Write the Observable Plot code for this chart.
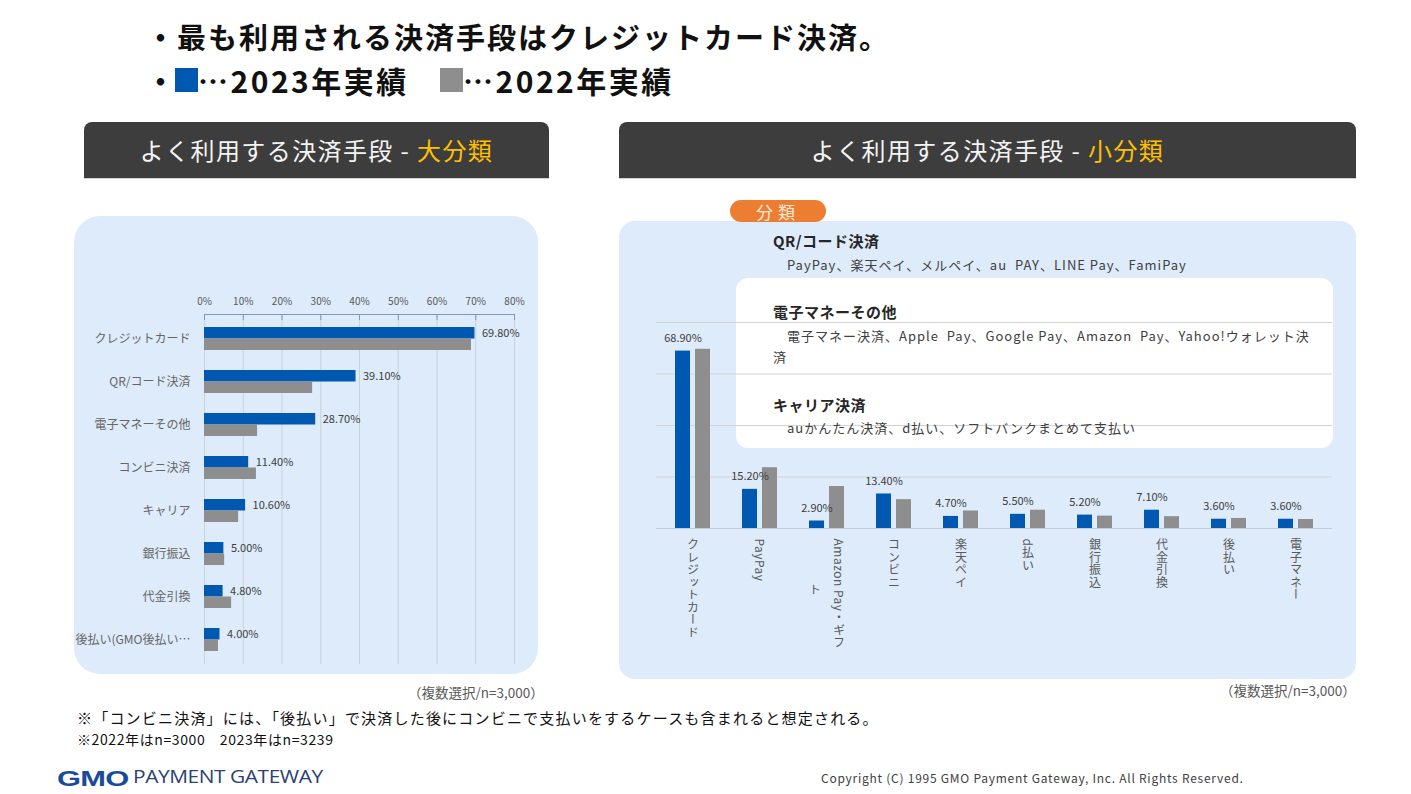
<!DOCTYPE html>
<html><head><meta charset="utf-8">
<script src="https://cdn.jsdelivr.net/npm/d3@7"></script>
<script src="https://cdn.jsdelivr.net/npm/@observablehq/plot@0.6"></script>
<style>
body{margin:0;background:#fff;font-family:"Noto Sans CJK JP","Noto Sans",sans-serif;}
#slide{position:relative;width:1411px;height:794px;overflow:hidden;background:#fff;}
.a{position:absolute;white-space:pre;line-height:1;}
.title{font-size:29px;font-weight:700;color:#111;letter-spacing:2px;}
.hdr{background:#3d3d3d;border-radius:8px 8px 0 0;border-bottom:1px solid #d0d0d0;color:#f4f4f4;font-size:24px;display:flex;align-items:center;justify-content:center;letter-spacing:1.4px;}
.hdr span{color:#ffc000;}
.panel{background:#ddebfa;}
.desc{font-size:13px;color:#404040;letter-spacing:1px;}
.dhead{font-size:15px;font-weight:700;color:#262626;letter-spacing:0.5px;}
.note{font-size:13.5px;color:#595959;}
g[aria-description="xlabels"] text{writing-mode:vertical-rl;letter-spacing:0.5px;}
</style></head>
<body><div id="slide">
<div class="a title" style="left:146px;top:22px;">・最も利用される決済手段はクレジットカード決済。</div>
<div class="a title" style="left:146px;top:66px;">・</div>
<div class="a" style="left:175px;top:68px;width:23px;height:24px;background:#0058b0;"></div>
<div class="a title" style="left:198px;top:65px;font-size:30px;letter-spacing:2.5px;">…2023年実績</div>
<div class="a" style="left:440px;top:68px;width:23px;height:24px;background:#8e8e8e;"></div>
<div class="a title" style="left:463px;top:65px;font-size:30px;letter-spacing:2.5px;">…2022年実績</div>

<div class="a hdr" style="left:84px;top:122px;width:465px;height:56px;">よく利用する決済手段 - <span>大分類</span></div>
<div class="a hdr" style="left:619px;top:122px;width:737px;height:56px;">よく利用する決済手段 - <span>小分類</span></div>

<div class="a panel" style="left:74px;top:216px;width:464px;height:458px;border-radius:26px;"></div>
<div class="a panel" style="left:619px;top:221px;width:737px;height:458px;border-radius:16px;"></div>
<div class="a" style="left:736px;top:278px;width:597px;height:170px;border-radius:12px;background:#fff;"></div>

<div id="left" class="a" style="left:74px;top:280px;"></div>
<div id="right" class="a" style="left:619px;top:300px;"></div>

<div class="a" style="left:730px;top:200px;width:96px;height:22px;border-radius:11px;background:#ed7d31;color:#fde9d9;font-size:17px;display:flex;align-items:center;justify-content:center;letter-spacing:5px;">分類</div>
<div class="a dhead" style="left:773px;top:233px;">QR/コード決済</div>
<div class="a desc" style="left:787px;top:258px;">PayPay、楽天ペイ、メルペイ、au  PAY、LINE Pay、FamiPay</div>
<div class="a dhead" style="left:773px;top:304px;">電子マネーその他</div>
<div class="a desc" style="left:787px;top:329px;">電子マネー決済、Apple  Pay、Google Pay、Amazon  Pay、Yahoo!ウォレット決</div>
<div class="a desc" style="left:773px;top:350px;">済</div>
<div class="a dhead" style="left:773px;top:397px;">キャリア決済</div>
<div class="a desc" style="left:787px;top:421px;">auかんたん決済、d払い、ソフトバンクまとめて支払い</div>

<div class="a note" style="left:408px;top:686px;">（複数選択/n=3,000）</div>
<div class="a note" style="left:1220px;top:684px;">（複数選択/n=3,000）</div>
<div class="a" style="left:77px;top:710px;font-size:15px;color:#111;letter-spacing:1.2px;">※「コンビニ決済」には、「後払い」で決済した後にコンビニで支払いをするケースも含まれると想定される。</div>
<div class="a" style="left:77px;top:732px;font-size:14px;color:#111;letter-spacing:0.6px;">※2022年はn=3000　2023年はn=3239</div>
<div class="a" style="left:57px;top:768px;font-family:'Liberation Sans',sans-serif;font-size:22px;font-weight:700;color:#1a4a9c;transform:scaleX(1.4);transform-origin:0 0;letter-spacing:-0.5px;">GMO</div>
<div class="a" style="left:133px;top:767px;font-family:'Open Sans',sans-serif;font-size:19px;color:#2b4272;transform:scaleX(1.1);transform-origin:0 0;letter-spacing:-0.4px;">PAYMENT GATEWAY</div>
<div class="a" style="left:821px;top:772px;font-size:12px;color:#404040;letter-spacing:0.75px;">Copyright (C) 1995 GMO Payment Gateway, Inc. All Rights Reserved.</div>
</div>
<script>
// ---- data: 大分類 ----
const bigCats = ["クレジットカード","QR/コード決済","電子マネーその他","コンビニ決済","キャリア","銀行振込","代金引換","後払い(GMO後払い…"];
const big2023 = [69.8, 39.1, 28.7, 11.4, 10.6, 5.0, 4.8, 4.0];
const big2022 = [68.9, 27.9, 13.7, 13.4, 8.8, 5.2, 7.0, 3.6];
const bigTicks = [0, 10, 20, 30, 40, 50, 60, 70, 80];
// ---- data: 小分類 ----
const smallCats = ["クレジットカード","PayPay","Amazon Pay・ギフト","コンビニ","楽天ペイ","d払い","銀行振込","代金引換","後払い","電子マネー"];
const small2023 = [68.9, 15.2, 2.9, 13.4, 4.7, 5.5, 5.2, 7.1, 3.6, 3.6];
const small2022 = [69.6, 23.6, 16.3, 11.2, 6.8, 7.1, 4.8, 4.6, 3.9, 3.5];
const smallLabelLines = [["クレジットカード"],["PayPay"],["Amazon Pay・ギフ","ト"],["コンビニ"],["楽天ペイ"],["d払い"],["銀行振込"],["代金引換"],["後払い"],["電子マネー"]];
const smallGrid = [0, 20, 40, 60, 80];

const BLUE = "#0058b0", GRAY = "#8e8e8e";
const FONT = '"Noto Sans CJK JP","Noto Sans",sans-serif';

const bigRows = bigCats.map((c, i) => ({cat: c, v23: big2023[i], v22: big2022[i]}));
const left = Plot.plot({
  width: 464, height: 390, marginLeft: 130, marginRight: 24, marginTop: 34, marginBottom: 6,
  style: {background: "transparent", fontFamily: FONT, overflow: "visible"},
  x: {domain: [0, 80]},
  y: {domain: bigCats, paddingInner: 0.47, paddingOuter: 0.27, label: null},
  marks: [
    Plot.gridX(bigTicks, {stroke: "#c8d2dc", strokeOpacity: 1}),
    Plot.frame({anchor: "top", stroke: "#7f98b5"}),
    Plot.axisX(bigTicks, {anchor: "top", tickSize: 5, tickPadding: 10, dy: 5, stroke: "#7f98b5", fill: "#595959", fontSize: 10, tickFormat: d => d + "%", label: null}),
    Plot.axisY({tickSize: 0, tickPadding: 14, fill: "#666666", fontSize: 12, label: null}),
    Plot.barX(bigRows, {x: "v23", y: "cat", fill: BLUE, insetBottom: 11.5}),
    Plot.barX(bigRows, {x: "v22", y: "cat", fill: GRAY, insetTop: 11.5}),
    Plot.text(bigRows, {x: "v23", y: "cat", text: d => d.v23.toFixed(2) + "%", dx: 7, dy: -6, textAnchor: "start", fontSize: 11, fill: "#404040"})
  ]
});
document.getElementById("left").appendChild(left);

const smallRows = smallCats.map((c, i) => ({cat: c, v23: small2023[i], v22: small2022[i]}));
const labelRows = smallCats.flatMap((c, i) => smallLabelLines[i].map((line, j) => ({cat: c, line, j, n: smallLabelLines[i].length})));
const right = Plot.plot({
  width: 737, height: 379, marginLeft: 37, marginRight: 24, marginTop: 22, marginBottom: 151,
  style: {background: "transparent", fontFamily: FONT, overflow: "visible"},
  x: {domain: smallCats, paddingInner: 0.482, paddingOuter: 0.241, axis: null},
  y: {domain: [0, 80], axis: null},
  marks: [
    Plot.gridY(smallGrid, {stroke: "#d3d3d3", strokeOpacity: 1}),
    Plot.ruleY([0], {stroke: "#c4ccd6"}),
    Plot.barY(smallRows, {x: "cat", y: "v23", fill: BLUE, insetRight: 20}),
    Plot.barY(smallRows, {x: "cat", y: "v22", fill: GRAY, insetLeft: 20}),
    Plot.text(smallRows, {x: "cat", y: "v23", text: d => d.v23.toFixed(2) + "%", dx: -10, dy: -13, fontSize: 11, fill: "#404040"}),
    Plot.text(labelRows.filter(d => d.n === 1), {x: "cat", text: "line", frameAnchor: "bottom", dy: 10, textAnchor: "start", lineAnchor: "bottom", fontSize: 12, fill: "#595959", ariaDescription: "xlabels"}),
    Plot.text(labelRows.filter(d => d.n > 1 && d.j === 0), {x: "cat", text: "line", frameAnchor: "bottom", dx: 12, dy: 10, textAnchor: "start", lineAnchor: "bottom", fontSize: 12, fill: "#595959", ariaDescription: "xlabels"}),
    Plot.text(labelRows.filter(d => d.n > 1 && d.j === 1), {x: "cat", text: "line", frameAnchor: "bottom", dx: -12, dy: 61, textAnchor: "middle", lineAnchor: "bottom", fontSize: 12, fill: "#595959", ariaDescription: "xlabels"})
  ]
});
document.getElementById("right").appendChild(right);
</script>
</body></html>
